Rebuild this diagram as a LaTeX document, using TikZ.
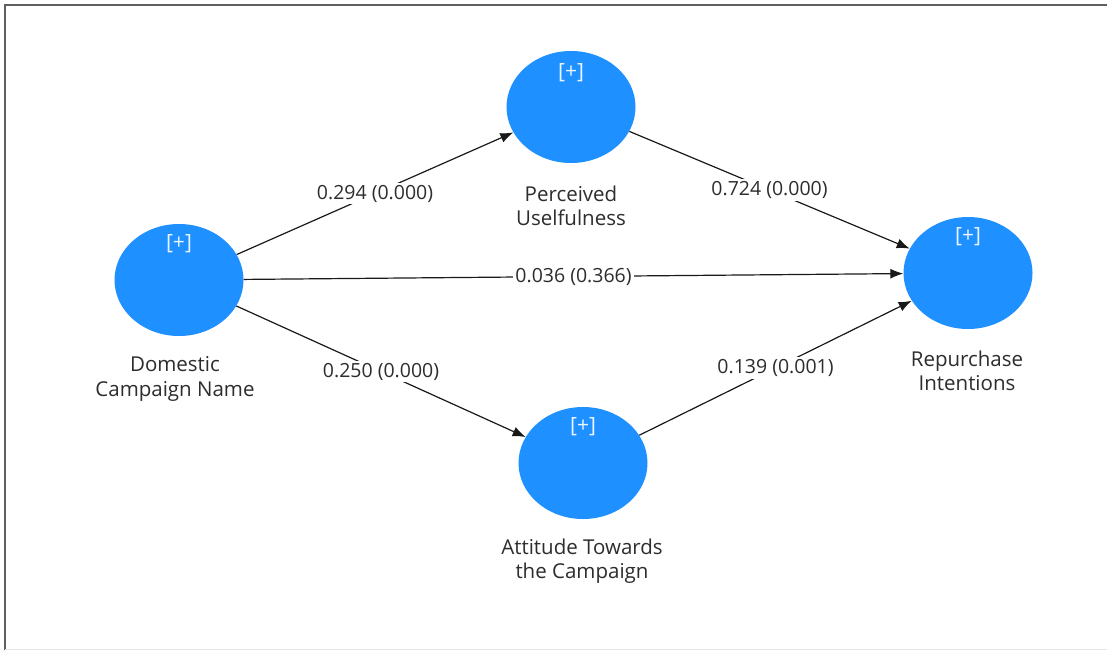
\documentclass[tikz,border=0pt]{standalone}
\usepackage{fontspec}
\setmainfont{Open Sans}
\usetikzlibrary{shapes.geometric,arrows.meta}
\definecolor{lvblue}{RGB}{30,144,255}
\definecolor{txtgray}{RGB}{45,45,45}
\definecolor{framegray}{RGB}{95,95,95}
\begin{document}
\begin{tikzpicture}[x=1pt,y=-1pt,
  latent/.style={ellipse,fill=lvblue,draw=none,minimum width=129pt,minimum height=112pt,inner sep=0pt},
  plusmark/.style={text=white!92!lvblue,font=\fontsize{21}{24}\selectfont},
  lvlabel/.style={align=center,text=txtgray,font=\fontsize{20.5}{24.5}\selectfont},
  pathline/.style={draw=black!90,line width=1.2pt,-{Latex[length=13pt,width=10pt]}},
  coef/.style={fill=white,inner sep=2pt,text=txtgray,font=\fontsize{19.5}{22}\selectfont}]
  % canvas and frame
  \useasboundingbox (0,0) rectangle (1107,650);
  \fill[white] (0,0) rectangle (1107,650);
  \draw[framegray,line width=2.5pt] (5,650) -- (5,5) -- (1107,5);
  \draw[black!10,line width=1pt] (5,649.5) -- (1107,649.5);

  % latent variables
  \node[latent] (dcn) at (179,280) {};
  \node[latent] (pu)  at (571,107) {};
  \node[latent] (ri)  at (968,273) {};
  \node[latent] (atc) at (583,463) {};

  % expand markers
  \node[plusmark] (dcnp) at (179,244) {[+]};
  \node[plusmark] (pup)  at (571,73)  {[+]};
  \node[plusmark] (rip)  at (968,237) {[+]};
  \node[plusmark] (atcp) at (583,427) {[+]};

  % construct names
  \node[lvlabel] (dcnl) at (175,379) {Domestic\\Campaign Name};
  \node[lvlabel] (pul)  at (571,206) {Perceived\\Uselfulness};
  \node[lvlabel] (ril)  at (967,371) {Repurchase\\Intentions};
  \node[lvlabel] (atcl) at (582,561) {Attitude Towards\\the Campaign};

  % structural paths with coefficients (p-values)
  \draw[pathline] (dcn) -- node[coef] (c1) {0.294 (0.000)} (pu);
  \draw[pathline] (pu)  -- node[coef] (c2) {0.724 (0.000)} (ri);
  \draw[pathline] (dcn) -- node[coef] (c3) {0.036 (0.366)} (ri);
  \draw[pathline] (dcn) -- node[coef] (c4) {0.250 (0.000)} (atc);
  \draw[pathline] (atc) -- node[coef] (c5) {0.139 (0.001)} (ri);
\end{tikzpicture}
\end{document}
